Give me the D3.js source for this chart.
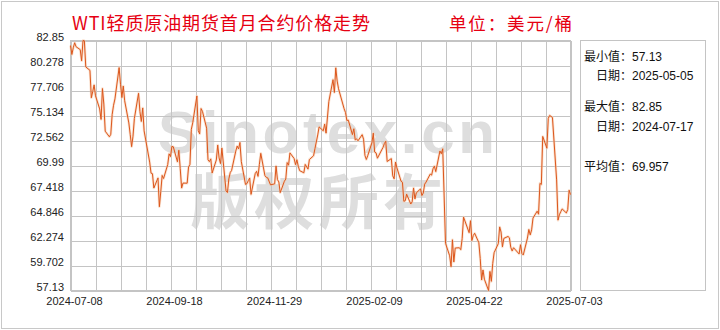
<!DOCTYPE html>
<html><head><meta charset="utf-8">
<script src="https://cdn.jsdelivr.net/npm/d3@7"></script>
<style>body{margin:0;background:#fff}svg{display:block}</style>
</head><body><svg id="c" width="720" height="330"></svg>
<script>
// ---------- data ----------
const dates = [
"2024-07-08","2024-07-09","2024-07-10","2024-07-11","2024-07-12","2024-07-15","2024-07-16","2024-07-17","2024-07-18","2024-07-19","2024-07-22","2024-07-23","2024-07-24","2024-07-25","2024-07-26","2024-07-29","2024-07-30","2024-07-31",
"2024-08-01","2024-08-02","2024-08-05","2024-08-06","2024-08-07","2024-08-08","2024-08-09","2024-08-12","2024-08-13","2024-08-14","2024-08-15","2024-08-16","2024-08-19","2024-08-20","2024-08-21","2024-08-22","2024-08-23","2024-08-26","2024-08-27","2024-08-28","2024-08-29","2024-08-30",
"2024-09-03","2024-09-04","2024-09-05","2024-09-06","2024-09-09","2024-09-10","2024-09-11","2024-09-12","2024-09-13","2024-09-16","2024-09-17","2024-09-18","2024-09-19","2024-09-20","2024-09-23","2024-09-24","2024-09-25","2024-09-26","2024-09-27","2024-09-30",
"2024-10-01","2024-10-02","2024-10-03","2024-10-04","2024-10-07","2024-10-08","2024-10-09","2024-10-10","2024-10-11","2024-10-14","2024-10-15","2024-10-16","2024-10-17","2024-10-18","2024-10-21","2024-10-22","2024-10-23","2024-10-24","2024-10-25","2024-10-28","2024-10-29","2024-10-30","2024-10-31",
"2024-11-01","2024-11-04","2024-11-05","2024-11-06","2024-11-07","2024-11-08","2024-11-11","2024-11-12","2024-11-13","2024-11-14","2024-11-15","2024-11-18","2024-11-19","2024-11-20","2024-11-21","2024-11-22","2024-11-25","2024-11-26","2024-11-27","2024-11-29",
"2024-12-02","2024-12-03","2024-12-04","2024-12-05","2024-12-06","2024-12-09","2024-12-10","2024-12-11","2024-12-12","2024-12-13","2024-12-16","2024-12-17","2024-12-18","2024-12-19","2024-12-20","2024-12-23","2024-12-24","2024-12-26","2024-12-27","2024-12-30","2024-12-31",
"2025-01-02","2025-01-03","2025-01-06","2025-01-07","2025-01-08","2025-01-10","2025-01-13","2025-01-14","2025-01-15","2025-01-16","2025-01-17","2025-01-21","2025-01-22","2025-01-23","2025-01-24","2025-01-27","2025-01-28","2025-01-29","2025-01-30","2025-01-31",
"2025-02-03","2025-02-04","2025-02-05","2025-02-06","2025-02-07","2025-02-10","2025-02-11","2025-02-12","2025-02-13","2025-02-14","2025-02-18","2025-02-19","2025-02-20","2025-02-21","2025-02-24","2025-02-25","2025-02-26","2025-02-27","2025-02-28",
"2025-03-03","2025-03-04","2025-03-05","2025-03-06","2025-03-07","2025-03-10","2025-03-11","2025-03-12","2025-03-13","2025-03-14","2025-03-17","2025-03-18","2025-03-19","2025-03-20","2025-03-21","2025-03-24","2025-03-25","2025-03-26","2025-03-27","2025-03-28","2025-03-31",
"2025-04-01","2025-04-02","2025-04-03","2025-04-04","2025-04-07","2025-04-08","2025-04-09","2025-04-10","2025-04-11","2025-04-14","2025-04-15","2025-04-16","2025-04-17","2025-04-21","2025-04-22","2025-04-23","2025-04-24","2025-04-25","2025-04-28","2025-04-29","2025-04-30",
"2025-05-01","2025-05-02","2025-05-05","2025-05-06","2025-05-07","2025-05-08","2025-05-09","2025-05-12","2025-05-13","2025-05-14","2025-05-15","2025-05-16","2025-05-19","2025-05-20","2025-05-21","2025-05-22","2025-05-23","2025-05-27","2025-05-28","2025-05-29","2025-05-30",
"2025-06-02","2025-06-03","2025-06-04","2025-06-05","2025-06-06","2025-06-09","2025-06-10","2025-06-11","2025-06-12","2025-06-13","2025-06-16","2025-06-17","2025-06-18","2025-06-20","2025-06-23","2025-06-24","2025-06-25","2025-06-26","2025-06-27","2025-06-30",
"2025-07-01","2025-07-02","2025-07-03"
];
const prices = [
82.33,81.41,82.10,82.62,82.21,81.91,80.76,82.85,82.82,80.13,79.78,76.96,77.59,78.28,77.16,75.81,74.73,77.91,
76.31,73.52,72.94,73.20,75.23,76.19,76.84,80.06,78.35,76.98,78.16,76.65,74.37,73.17,71.93,73.01,74.83,77.42,75.53,74.52,75.91,73.55,
70.34,69.20,69.15,67.67,68.71,65.75,67.31,68.97,68.65,70.09,71.19,70.91,71.95,71.92,70.37,71.56,69.69,67.67,68.18,68.17,
69.83,70.10,73.71,74.38,77.14,73.57,73.24,75.85,75.56,73.83,70.58,70.39,70.67,69.22,70.56,72.09,70.77,70.19,71.78,67.38,67.21,68.61,69.26,
69.49,71.47,71.99,71.69,72.36,70.38,68.04,68.12,68.43,68.70,67.02,69.16,69.39,68.87,70.10,71.24,68.94,68.77,68.72,68.00,
68.10,69.94,68.54,68.30,67.20,68.37,68.59,70.29,70.02,71.29,70.71,70.08,70.58,69.91,69.46,69.24,70.10,69.62,70.60,70.99,71.72,
73.13,73.96,73.56,74.25,73.32,76.57,78.82,77.50,80.04,78.68,77.88,75.83,75.44,74.62,74.66,73.17,73.77,72.62,72.73,72.53,
73.16,72.70,71.03,70.61,71.00,72.32,73.32,71.37,71.29,70.74,71.85,72.25,72.48,70.40,70.70,68.93,68.62,70.35,69.76,
68.37,68.26,66.31,66.36,67.04,66.03,66.25,67.68,66.55,67.18,67.58,66.90,67.16,68.07,68.28,69.11,69.00,69.65,69.92,69.36,71.48,
71.20,71.71,66.95,61.99,60.70,59.58,62.35,60.07,61.50,61.53,61.33,62.47,64.68,63.08,64.31,62.27,62.79,63.02,62.05,60.42,58.21,
59.24,58.29,57.13,59.09,58.07,59.91,61.02,61.95,63.67,63.15,61.62,62.49,62.69,62.56,61.57,61.20,61.53,60.89,61.84,60.94,60.79,
62.52,63.41,62.85,63.37,64.58,65.29,64.98,68.15,68.04,72.98,71.77,74.84,75.14,74.93,68.51,64.37,64.92,65.24,65.52,65.11,
65.45,67.45,67.00
];
const yTickLabels = ["82.85","80.278","77.706","75.134","72.562","69.99","67.418","64.846","62.274","59.702","57.13"];
const xTickLabels = ["2024-07-08","2024-09-18","2024-11-29","2025-02-09","2025-04-22","2025-07-03"];
const titleText = "WTI轻质原油期货首月合约价格走势";
const unitText = "单位：美元/桶";
const statLabels = ["最小值：","日期：","最大值：","日期：","平均值："];
const statValues = ["57.13","2025-05-05","82.85","2024-07-17","69.957"];
const watermarkLatin = "Sinotex.cn";
const watermarkCJK = "版权所有";

// ---------- drawing ----------
const svg = d3.select("#c");
const parse = d3.utcParse("%Y-%m-%d");
const data = dates.map((d, i) => ({date: parse(d), value: prices[i]}));
const xStart = parse(xTickLabels[0]), xEnd = parse(xTickLabels[xTickLabels.length - 1]);
const L = 70.5, R = 570.5, T = 40.5, B = 290.5;
const x = d3.scaleUtc().domain([xStart, xEnd]).range([L, R]);
const yVals = yTickLabels.map(Number);
const y = d3.scaleLinear().domain([d3.min(yVals), d3.max(yVals)]).range([B, T]);
const grid = "#c4c4c4";

svg.append("rect").attr("width", 720).attr("height", 330).attr("fill", "#fff");
svg.append("rect").attr("x", 1.5).attr("y", 1.5).attr("width", 717).attr("height", 327)
  .attr("fill", "none").attr("stroke", "#c8c8c8");

// watermark
svg.append("text").attr("x", 158).attr("y", 153).text(watermarkLatin)
  .attr("font-family", "'Liberation Sans', Arial, sans-serif").attr("font-weight", "bold")
  .attr("font-size", 60).attr("fill", "#dedede")
  .attr("textLength", 337).attr("lengthAdjust", "spacing");
svg.append("text").attr("x", 190).attr("y", 224).text(watermarkCJK)
  .attr("font-family", "'Noto Sans CJK SC', sans-serif").attr("font-weight", "bold")
  .attr("font-size", 60).attr("fill", "#dedede")
  .attr("textLength", 253).attr("lengthAdjust", "spacing");

// vertical grid (every 18 days = 25px)
const vgrid = d3.range(0, 21).map(i => d3.utcDay.offset(xStart, 18 * i));
svg.append("g").attr("transform", `translate(0,${B})`)
  .call(d3.axisBottom(x).tickValues(vgrid).tickSize(-(B - T)).tickFormat(""))
  .call(g => g.select(".domain").remove())
  .call(g => g.selectAll("line").attr("stroke", grid).attr("shape-rendering", "crispEdges"));

// horizontal grid + y labels
svg.append("g").attr("transform", `translate(${L},0)`)
  .call(d3.axisLeft(y).tickValues(yVals).tickSize(-(R - L)).tickPadding(6.5)
    .tickFormat((d, i) => yTickLabels[i]))
  .call(g => g.select(".domain").remove())
  .call(g => g.selectAll("line").attr("stroke", grid).attr("shape-rendering", "crispEdges"))
  .call(g => g.selectAll("text").attr("dy", "0").attr("fill", "#222")
    .attr("font-family", "'Liberation Sans', Arial, sans-serif").attr("font-size", 11));

// x labels
svg.append("g").attr("transform", `translate(0,${B})`)
  .call(d3.axisBottom(x).tickValues(xTickLabels.map(parse)).tickSize(0)
    .tickFormat((d, i) => xTickLabels[i]))
  .call(g => g.select(".domain").remove())
  .call(g => g.selectAll("text").attr("y", 14).attr("dy", "0").attr("dx", 3.5).attr("fill", "#222")
    .attr("font-family", "'Liberation Sans', Arial, sans-serif").attr("font-size", 11));

// frame
svg.append("rect").attr("x", L).attr("y", T).attr("width", R - L).attr("height", B - T)
  .attr("fill", "none").attr("stroke", grid).attr("shape-rendering", "crispEdges");

// line
const line = d3.line().x(d => x(d.date)).y(d => y(d.value));
svg.append("path").datum(data).attr("d", line).attr("fill", "none")
  .attr("stroke", "#f6c8a8").attr("stroke-width", 2.6).attr("stroke-opacity", 0.55)
  .attr("stroke-linejoin", "round");
svg.append("path").datum(data).attr("d", line).attr("fill", "none")
  .attr("stroke", "#dc561c").attr("stroke-width", 1).attr("stroke-linejoin", "round");

// title
svg.append("text").attr("x", 72).attr("y", 30).text(titleText)
  .attr("font-family", "'Noto Sans CJK SC', sans-serif").attr("font-size", 18).attr("fill", "#e60012")
  .attr("textLength", 298).attr("lengthAdjust", "spacing");
svg.append("text").attr("x", 449).attr("y", 30).text(unitText)
  .attr("font-family", "'Noto Sans CJK SC', sans-serif").attr("font-size", 17.5).attr("fill", "#e60012")
  .attr("textLength", 123).attr("lengthAdjust", "spacing");

// stats panel
svg.append("rect").attr("x", 580.5).attr("y", T).attr("width", 125).attr("height", B - T)
  .attr("fill", "none").attr("stroke", grid).attr("shape-rendering", "crispEdges");
const statY = [60.5, 79.5, 110.5, 130.5, 170.5];
const sg = svg.append("g");
sg.selectAll("text.lab").data(statLabels).join("text").attr("class", "lab")
  .attr("x", 632).attr("y", (d, i) => statY[i]).attr("text-anchor", "end").text(d => d)
  .attr("font-family", "'Noto Sans CJK SC', sans-serif").attr("font-size", 12).attr("fill", "#111");
sg.selectAll("text.val").data(statValues).join("text").attr("class", "val")
  .attr("x", 632).attr("y", (d, i) => statY[i]).text(d => d)
  .attr("font-family", "'Liberation Sans', Arial, sans-serif").attr("font-size", 12).attr("fill", "#111");
</script>
</body></html>
